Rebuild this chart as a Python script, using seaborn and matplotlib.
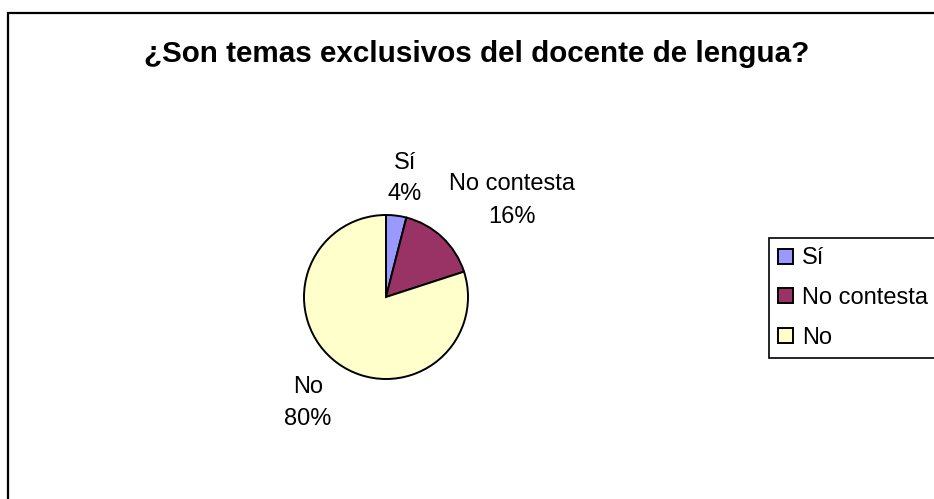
import matplotlib
matplotlib.use("Agg")
import matplotlib.pyplot as plt
from matplotlib.patches import Rectangle
import seaborn as sns

# Survey answers and their shares (percent)
categories = ["Sí", "No contesta", "No"]
shares = [4, 16, 80]
colors = ["#9999FF", "#993366", "#FFFFCC"]
title = "¿Son temas exclusivos del docente de lengua?"

sns.set_theme(style="white")
plt.rcParams["font.family"] = ["Liberation Sans", "DejaVu Sans"]
plt.rcParams["text.color"] = "black"

W, H = 934, 499
fig = plt.figure(figsize=(W / 100, H / 100), dpi=100)
fig.patch.set_facecolor("white")


def fx(px):
    return px / W


def fy(py):
    return 1 - py / H


# Outer chart border
fig.patches.append(Rectangle((fx(8), fy(540)), fx(980), fy(13) - fy(540),
                             transform=fig.transFigure, fill=False,
                             edgecolor="black", linewidth=1.6, clip_on=False))

fig.text(fx(477), fy(62), title, ha="center", va="baseline",
         fontsize=21.3, fontweight="bold", color="black")

# Pie axes: square box centred on the pie, radius 1 -> 82 px
cx, cy, r_px, lim = 386, 297, 82, 2.2
side = 2 * lim * r_px
ax = fig.add_axes([fx(cx - side / 2), fy(cy + side / 2), side / W, side / H])
wedges, _ = ax.pie(shares, colors=colors, startangle=90, counterclock=False,
                   wedgeprops=dict(edgecolor="black", linewidth=1.4))
ax.set_xlim(-lim, lim)
ax.set_ylim(-lim, lim)
ax.set_aspect("equal")
ax.axis("off")

# Data labels: name on the first line, share on the second (baselines in px)
label_pos = [(405, 169, 200), (512, 190, 223), (308, 393, 425)]
for name, val, (x, y1, y2) in zip(categories, shares, label_pos):
    fig.text(fx(x), fy(y1), name, ha="center", va="baseline", fontsize=17,
             color="black")
    fig.text(fx(x), fy(y2), f"{val}%", ha="center", va="baseline",
             fontsize=17, color="black")

leg = fig.legend(wedges, categories, loc="upper left",
                 bbox_to_anchor=(fx(769), fy(238)), borderaxespad=0,
                 frameon=True, fancybox=False, shadow=False, fontsize=17,
                 framealpha=1, handlelength=0.6, handleheight=0.6,
                 handletextpad=0.4, borderpad=0.4, labelspacing=0.75)
leg.get_frame().set_edgecolor("black")
leg.get_frame().set_linewidth(1.2)
for t in leg.get_texts():
    t.set_color("black")

fig.savefig("out.png", dpi=100)
